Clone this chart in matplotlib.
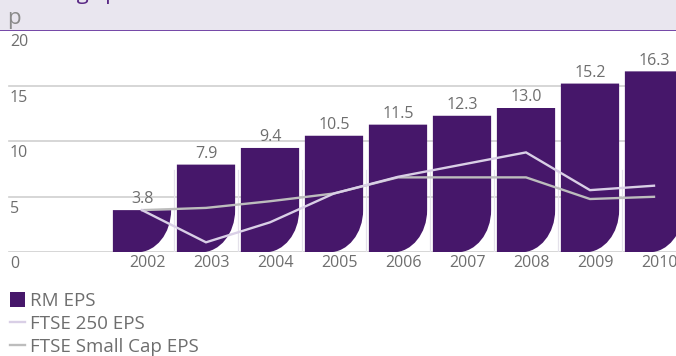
import matplotlib
matplotlib.use("Agg")
import matplotlib.pyplot as plt
from matplotlib.path import Path
from matplotlib.patches import PathPatch, Patch, Rectangle
from matplotlib.lines import Line2D
import matplotlib.transforms as mtransforms

plt.rcParams['font.family'] = ['Open Sans', 'DejaVu Sans']

# data
years = ['2002', '2003', '2004', '2005', '2006', '2007', '2008', '2009', '2010']
rm_eps = [3.8, 7.9, 9.4, 10.5, 11.5, 12.3, 13.0, 15.2, 16.3]
ftse250_eps = [3.8, 0.9, 2.7, 5.3, 6.8, 7.9, 9.0, 5.6, 6.0]
smallcap_eps = [3.8, 4.0, 4.6, 5.3, 6.75, 6.75, 6.75, 4.8, 5.0]
y_ticks = [0, 5, 10, 15, 20]

PURPLE = '#46176A'
LAVENDER = '#D9CFE6'
GREY_LINE = '#BDBDBD'
TEXT = '#6E6E6E'
GRID = '#CFCFCF'

W, H = 676, 356
fig = plt.figure(figsize=(W / 100, H / 100), dpi=100)

# header band with the (cut off) title
fig.patches.append(Rectangle((0, 1 - 29.5 / H), 1, 29.5 / H, transform=fig.transFigure,
                             facecolor='#E9E6EF', edgecolor='none', zorder=0))
fig.text(10 / W, 1 + 1.5 / H, 'Earnings per share', color='#5B2A86', fontsize=16,
         va='baseline', ha='left')
fig.text(7 / W, 1 - 24 / H, 'p', color='#8A8A8A', fontsize=16, va='baseline', ha='left')

ax = fig.add_axes([0, (H - 252.3) / H, 1, 222 / H])
ax.set_xlim(-142 / 64, (W - 142) / 64)
ax.set_ylim(0, 20)
ax.axis('off')

x = list(range(len(years)))

# gridlines and y labels (labels sit just below each line)
for t in y_ticks[:-1]:
    ax.axhline(t, xmin=9 / W, xmax=1, color=GRID, lw=1.2, zorder=1)
ax.axhline(20, xmin=0, xmax=1, color='#7345A6', lw=1.4, zorder=1, clip_on=False)
tr = mtransforms.blended_transform_factory(fig.transFigure, ax.transData)
for t in y_ticks:
    ax.text(10 / W, t - 0.35, str(t), transform=tr, ha='left', va='top',
            fontsize=11.5, color=TEXT)

# faint separators in the gaps
for i in x:
    ax.plot([i + 0.5, i + 0.5], [0, 7.4], color='#E4E1EA', lw=0.9, zorder=1)

# bars with a rounded lower-right corner
bw = 0.91
rx = 0.53
k = 0.5523
for i, h in zip(x, rm_eps):
    l, r = i - bw / 2, i + bw / 2
    ry = min(3.8, h)
    verts = [(l, 0), (l, h), (r, h), (r, ry),
             (r, ry - k * ry), (r - rx + k * rx, 0), (r - rx, 0),
             (l, 0)]
    codes = [Path.MOVETO, Path.LINETO, Path.LINETO, Path.LINETO,
             Path.CURVE4, Path.CURVE4, Path.CURVE4, Path.CLOSEPOLY]
    ax.add_patch(PathPatch(Path(verts, codes), facecolor=PURPLE, edgecolor='none', zorder=2))
    ax.text(i, h + 0.25, f'{h:.1f}', ha='center', va='bottom', fontsize=11.5, color=TEXT, zorder=4)
    ax.text(i + 0.09, -0.25, years[i], ha='center', va='top', fontsize=11.5, color=TEXT,
            clip_on=False)

ax.plot(x, smallcap_eps, color=GREY_LINE, lw=1.7, zorder=3, solid_joinstyle='miter')
ax.plot(x, ftse250_eps, color=LAVENDER, lw=1.7, zorder=3, solid_joinstyle='miter')

handles = [Patch(facecolor=PURPLE, edgecolor='none'),
           Line2D([], [], color=LAVENDER, lw=1.7),
           Line2D([], [], color=GREY_LINE, lw=1.7)]
labels = ['RM EPS', 'FTSE 250 EPS', 'FTSE Small Cap EPS']
leg = fig.legend(handles, labels, loc='upper left', bbox_to_anchor=(10 / W, 1 - 292 / H),
                 frameon=False, fontsize=13.5, handlelength=0.8, handleheight=0.85,
                 handletextpad=0.26, labelspacing=0.27, borderpad=0, borderaxespad=0)
for t in leg.get_texts():
    t.set_color(TEXT)

fig.savefig('out.png', dpi=100)
